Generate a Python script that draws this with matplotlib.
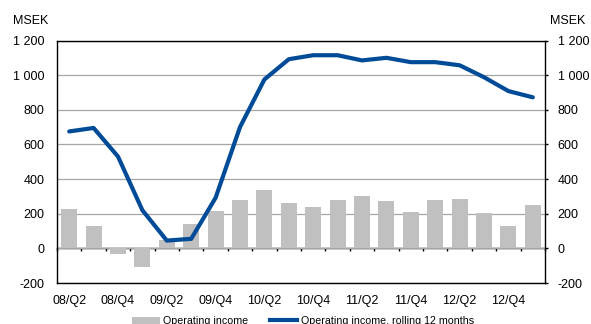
import numpy as np
import matplotlib
matplotlib.use("Agg")
import matplotlib.pyplot as plt
from matplotlib.patches import Patch
from matplotlib.lines import Line2D
from matplotlib.ticker import NullFormatter

plt.rcParams['font.family'] = ['Liberation Sans', 'DejaVu Sans']

quarters = ["08/Q2", "08/Q3", "08/Q4", "09/Q1", "09/Q2", "09/Q3", "09/Q4", "10/Q1",
            "10/Q2", "10/Q3", "10/Q4", "11/Q1", "11/Q2", "11/Q3", "11/Q4", "12/Q1",
            "12/Q2", "12/Q3", "12/Q4", "13/Q1"]
operating_income = [230, 130, -30, -110, 50, 140, 215, 280, 335, 262,
                    240, 280, 303, 275, 212, 280, 285, 205, 130, 250]
rolling_12m = [675, 695, 530, 220, 45, 55, 292, 700, 975, 1092,
               1115, 1115, 1085, 1100, 1075, 1075, 1057, 988, 908, 872]
y_ticks = [-200, 0, 200, 400, 600, 800, 1000, 1200]
y_labels = ["-200", "0", "200", "400", "600", "800", "1 000", "1 200"]

BAR_GREY = "#C0C0C0"
LINE_BLUE = "#004B98"
GRID_GREY = "#A6A6A6"
FS = 9.0

fig = plt.figure(figsize=(5.91, 3.24), dpi=100)
ax = fig.add_axes([57 / 591, 1 - 283 / 324, (545 - 57) / 591, (283 - 40.5) / 324])

x = np.arange(len(quarters))
ax.bar(x, operating_income, width=0.66, color=BAR_GREY, zorder=2)
ax.plot(x, rolling_12m, color=LINE_BLUE, lw=3.0, solid_capstyle='round',
        solid_joinstyle='round', zorder=3)

ax.set_xlim(-0.5, len(quarters) - 0.5)
ax.set_ylim(-200, 1200)
ax.set_yticks(y_ticks)
ax.set_yticklabels(y_labels)
ax.yaxis.grid(True, color=GRID_GREY, lw=0.9, zorder=1)
ax.set_axisbelow(True)

ax.tick_params(axis='y', which='both', left=False, right=True, labelleft=True,
               labelright=True, direction='out', length=2.3, width=1,
               labelsize=FS, pad=6.8)

ax.set_xticks(x[::2])
ax.set_xticklabels(quarters[::2])
ax.tick_params(axis='x', bottom=False, labelsize=FS, pad=5)

for side in ['left', 'right', 'top', 'bottom']:
    ax.spines[side].set_color('black')
    ax.spines[side].set_linewidth(1.0)

# zero line with category boundary ticks
zero_pos = (0 - (-200)) / (1200 - (-200))
sec = ax.secondary_xaxis(zero_pos)
sec.set_xticks(np.arange(-0.5, len(quarters) + 0.5, 1.0))
sec.xaxis.set_major_formatter(NullFormatter())
sec.xaxis.set_ticks_position('bottom')
sec.tick_params(axis='x', direction='out', length=2.5, width=1)
sec.spines['bottom'].set_linewidth(1.0)

fig.text(13 / 591, 1 - 20.5 / 324, "MSEK", fontsize=FS, va='center', ha='left')
fig.text(550 / 591, 1 - 20.5 / 324, "MSEK", fontsize=FS, va='center', ha='left')

handles = [Patch(facecolor=BAR_GREY, edgecolor='none'),
           Line2D([0], [0], color=LINE_BLUE, lw=3.0)]
fig.legend(handles, ["Operating income", "Operating income, rolling 12 months"],
           loc='center left', bbox_to_anchor=(132 / 591, 1 - 321 / 324), ncol=2,
           frameon=False, fontsize=7.7, handlelength=2.6, handletextpad=0.3,
           columnspacing=2.0, borderpad=0, borderaxespad=0)

fig.savefig("out.png", dpi=100)
